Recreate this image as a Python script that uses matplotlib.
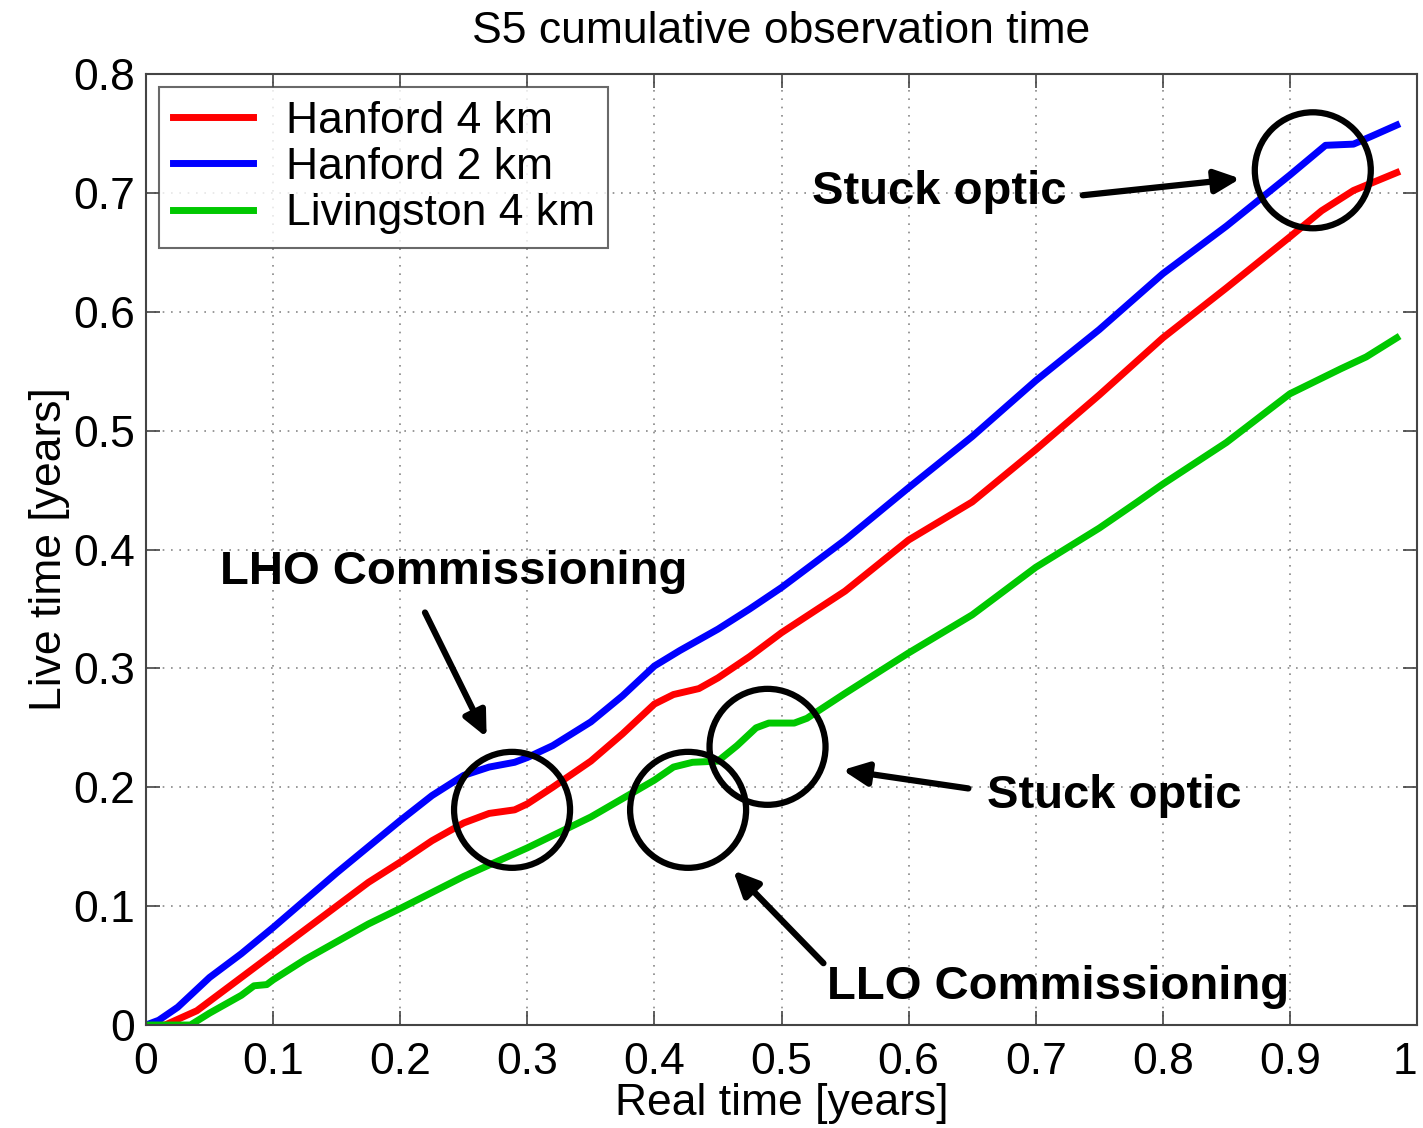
import matplotlib
matplotlib.use("Agg")
import matplotlib.pyplot as plt
from matplotlib.patches import Ellipse

plt.rcParams["font.family"] = ["Liberation Sans", "DejaVu Sans"]

# ── Data: cumulative live time vs real time (years) ──────────────────────────
h2_x = [0, 0.01, 0.025, 0.05, 0.075, 0.1, 0.125, 0.15, 0.175, 0.2, 0.225, 0.25,
        0.27, 0.29, 0.3, 0.32, 0.35, 0.375, 0.4, 0.42, 0.45, 0.475, 0.5, 0.55,
        0.6, 0.65, 0.7, 0.75, 0.8, 0.85, 0.9, 0.928, 0.95, 0.965, 0.984]
h2_y = [0, 0.004, 0.015, 0.04, 0.06, 0.082, 0.105, 0.128, 0.15, 0.172, 0.193, 0.21,
        0.217, 0.221, 0.225, 0.235, 0.255, 0.277, 0.302, 0.315, 0.333, 0.35, 0.368, 0.408,
        0.452, 0.495, 0.542, 0.585, 0.632, 0.672, 0.715, 0.740, 0.741, 0.748, 0.757]

h1_x = [0, 0.015, 0.04, 0.06, 0.08, 0.1, 0.125, 0.15, 0.175, 0.2, 0.225, 0.25,
        0.27, 0.29, 0.3, 0.32, 0.35, 0.375, 0.4, 0.415, 0.435, 0.45, 0.475, 0.5,
        0.55, 0.6, 0.65, 0.7, 0.75, 0.8, 0.85, 0.9, 0.925, 0.95, 0.984]
h1_y = [0, 0.0, 0.012, 0.028, 0.044, 0.06, 0.08, 0.1, 0.12, 0.137, 0.155, 0.17,
        0.178, 0.181, 0.186, 0.2, 0.222, 0.245, 0.27, 0.278, 0.283, 0.292, 0.31, 0.33,
        0.365, 0.408, 0.44, 0.484, 0.53, 0.578, 0.62, 0.663, 0.685, 0.702, 0.717]

l1_x = [0, 0.035, 0.05, 0.075, 0.085, 0.095, 0.1, 0.125, 0.15, 0.175, 0.2, 0.25,
        0.3, 0.35, 0.4, 0.415, 0.43, 0.45, 0.465, 0.48, 0.49, 0.51, 0.52, 0.55,
        0.6, 0.65, 0.7, 0.75, 0.78, 0.8, 0.85, 0.9, 0.94, 0.96, 0.984]
l1_y = [0, 0, 0.01, 0.025, 0.033, 0.034, 0.038, 0.055, 0.07, 0.085, 0.098, 0.125,
        0.149, 0.175, 0.206, 0.217, 0.221, 0.222, 0.235, 0.25, 0.254, 0.254, 0.258, 0.279,
        0.313, 0.345, 0.385, 0.418, 0.44, 0.455, 0.49, 0.531, 0.552, 0.562, 0.578]

x_ticks = [0, 0.1, 0.2, 0.3, 0.4, 0.5, 0.6, 0.7, 0.8, 0.9, 1]
x_labels = ["0", "0.1", "0.2", "0.3", "0.4", "0.5", "0.6", "0.7", "0.8", "0.9", "1"]
y_ticks = [0, 0.1, 0.2, 0.3, 0.4, 0.5, 0.6, 0.7, 0.8]
y_labels = ["0", "0.1", "0.2", "0.3", "0.4", "0.5", "0.6", "0.7", "0.8"]

RED = "#ff0000"
BLUE = "#0000ff"
GREEN = "#00c800"
FS = 32

fig = plt.figure(figsize=(14.23, 11.28), dpi=100)
ax = fig.add_axes([0.1026, 0.0913, 0.8932, 0.8431])

ax.plot(h1_x, h1_y, color=RED, lw=5, label="Hanford 4 km")
ax.plot(h2_x, h2_y, color=BLUE, lw=5, label="Hanford 2 km")
ax.plot(l1_x, l1_y, color=GREEN, lw=5, label="Livingston 4 km")

ax.set_xlim(0, 1)
ax.set_ylim(0, 0.8)
ax.set_xticks(x_ticks)
ax.set_xticklabels(x_labels)
ax.set_yticks(y_ticks)
ax.set_yticklabels(y_labels)
ax.tick_params(direction="in", length=10, width=1.2, labelsize=FS,
               top=True, right=True, color="#444444")
ax.tick_params(axis="x", pad=12)
ax.tick_params(axis="y", pad=8)
# keep the last x label inside the figure
ax.get_xticklabels()[-1].set_horizontalalignment("right")
ax.grid(True, color="#888888", linestyle=(0, (1, 4)), linewidth=1.2)
for s in ax.spines.values():
    s.set_color("#444444")
    s.set_linewidth(1.5)

ax.set_title("S5 cumulative observation time", fontsize=FS, pad=22)
ax.set_xlabel("Real time [years]", fontsize=FS, labelpad=0)
ax.set_ylabel("Live time [years]", fontsize=FS, labelpad=2)

leg = ax.legend(loc="upper left", fontsize=FS, frameon=True, fancybox=False,
                borderaxespad=0.3, handlelength=1.8, handletextpad=0.75,
                labelspacing=0.12, borderpad=0.3)
leg.get_frame().set_edgecolor("#444444")
leg.get_frame().set_linewidth(1.5)

# Circles marking the features (sized so they render round on screen)
rx, ry = 58 / 1271, 58 / 1189
for cx, cy in [(0.288, 0.181), (0.4265, 0.181), (0.489, 0.234), (0.918, 0.719)]:
    ax.add_patch(Ellipse((cx, cy), 2 * rx, 2 * ry, fill=False,
                         edgecolor="black", lw=4.5, zorder=5))

arrow = dict(arrowstyle="-|>,head_length=1.5,head_width=0.7", lw=4.5,
             color="black", shrinkA=0, shrinkB=0)
bold = dict(fontsize=34, fontweight="bold", zorder=6)

ax.text(0.058, 0.381, "LHO Commissioning", ha="left", va="center", **bold)
ax.annotate("", xy=(0.268, 0.242), xytext=(0.2195, 0.347), arrowprops=arrow)

ax.text(0.524, 0.701, "Stuck optic", ha="left", va="center", **bold)
ax.annotate("", xy=(0.861, 0.712), xytext=(0.737, 0.698), arrowprops=arrow)

ax.text(0.662, 0.193, "Stuck optic", ha="left", va="center", **bold)
ax.annotate("", xy=(0.548, 0.2145), xytext=(0.647, 0.199), arrowprops=arrow)

ax.text(0.536, 0.032, "LLO Commissioning", ha="left", va="center", **bold)
ax.annotate("", xy=(0.462, 0.130), xytext=(0.533, 0.052), arrowprops=arrow)

fig.savefig("out.png", dpi=100)
